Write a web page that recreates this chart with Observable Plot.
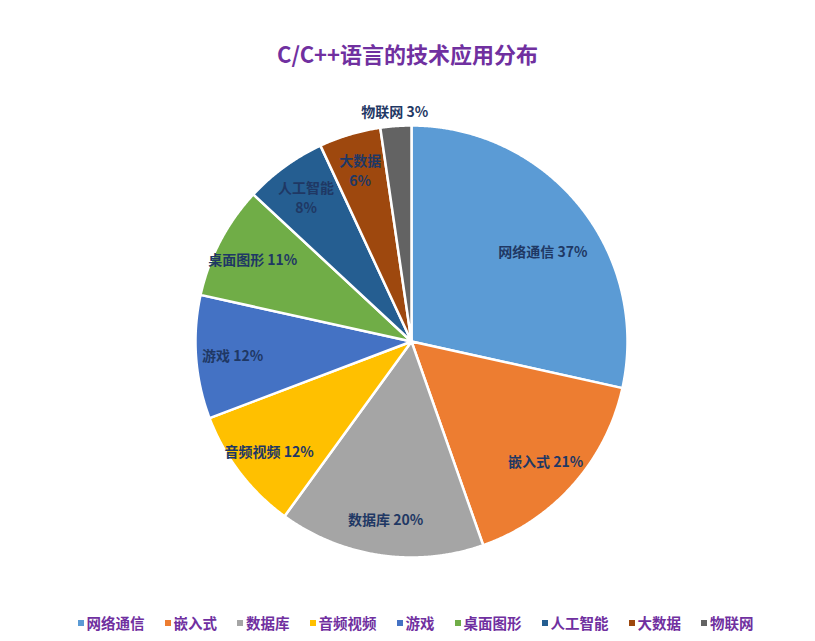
<!DOCTYPE html>
<html><head><meta charset="utf-8">
<script src="https://cdn.jsdelivr.net/npm/d3@7"></script>
<script src="https://cdn.jsdelivr.net/npm/@observablehq/plot@0.6"></script>
<style>
body{margin:0;background:#fff;font-family:"Noto Sans CJK SC","Noto Sans",sans-serif;}
#wrap{position:relative;width:815px;height:641px;overflow:hidden;background:#fff;}
#title{position:absolute;top:38px;left:0;width:815px;text-align:center;font-size:22px;font-weight:bold;color:#7030A0;line-height:30px;}
#chart{position:absolute;top:80px;left:0;}
#legend{position:absolute;top:612px;left:8px;width:815px;display:flex;justify-content:center;gap:20px;font-size:14.5px;font-weight:bold;color:#7030A0;line-height:22px;}
.item{display:flex;align-items:center;}
.sw{width:6px;height:6px;margin-right:3px;}
</style></head><body>
<div id="wrap"><div id="title"></div><div id="chart"></div><div id="legend"></div></div>
<script>
const titleText = "C/C++语言的技术应用分布";
const categories = ["网络通信","嵌入式","数据库","音频视频","游戏","桌面图形","人工智能","大数据","物联网"];
const values = [37,21,20,12,12,11,8,6,3];
const colors = ["#5B9BD5","#ED7D31","#A5A5A5","#FFC000","#4472C4","#70AD47","#255E91","#9E480E","#636363"];

document.getElementById("title").textContent = titleText;

const rows = categories.map((name, i) => ({name, value: values[i]}));
const arcs = d3.pie().sort(null).value(d => d.value)(rows);

// slice outlines (center + arc sampled along the circle)
const pts = [];
for (const a of arcs) {
  const n = Math.max(2, Math.ceil((a.endAngle - a.startAngle) / 0.005));
  pts.push({name: a.data.name, x: 0, y: 0});
  for (let k = 0; k <= n; k++) {
    const t = a.startAngle + (a.endAngle - a.startAngle) * k / n;
    pts.push({name: a.data.name, x: Math.sin(t), y: Math.cos(t)});
  }
}

const labels = arcs.map(a => {
  const mid = (a.startAngle + a.endAngle) / 2;
  const v = a.data.value;
  const r = v < 5 ? 1.07 : v >= 30 ? 0.74 : 0.83;
  const ang = v >= 30 ? mid * 1.08 : mid;
  const pct = v + "%";
  const text = (v < 10 && v >= 5) ? a.data.name + "\n" + pct : a.data.name + " " + pct;
  return {x: r * Math.sin(ang), y: r * Math.cos(ang), text};
});

const R = 216, cx = 411, cy = 261;
const plot = Plot.plot({
  width: 815, height: 530,
  margin: 0,
  x: {domain: [-1, 1], range: [cx - R, cx + R], axis: null},
  y: {domain: [-1, 1], range: [cy + R, cy - R], axis: null},
  color: {domain: categories, range: colors},
  style: {background: "transparent", overflow: "visible"},
  marks: [
    Plot.line(pts, {x: "x", y: "y", z: "name", fill: "name", stroke: "white", strokeWidth: 2.5, strokeLinejoin: "round", curve: "linear-closed"}),
    Plot.text(labels, {x: "x", y: "y", text: "text", fill: "#1F3864", stroke: "none", fontWeight: "bold", fontSize: 14, lineHeight: 1.45, fontFamily: "'Noto Sans CJK SC', sans-serif"})
  ]
});
document.getElementById("chart").appendChild(plot);

const color = plot.scale("color");
const lg = document.getElementById("legend");
categories.forEach(name => {
  const it = document.createElement("div");
  it.className = "item";
  const sw = document.createElement("div");
  sw.className = "sw";
  sw.style.background = color.apply(name);
  const tx = document.createElement("span");
  tx.textContent = name;
  it.appendChild(sw); it.appendChild(tx);
  lg.appendChild(it);
});
</script>
</body></html>
